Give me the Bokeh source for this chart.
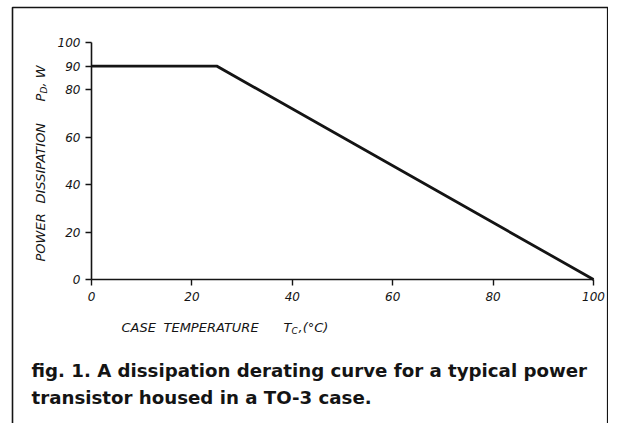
import math
from bokeh.plotting import figure
from bokeh.models import Range1d, FixedTicker, Label, BoxAnnotation
from bokeh.embed import file_html
from bokeh.resources import INLINE

# ---- data ----
case_temp_c = [0, 25, 100]
power_dissipation_w = [90, 90, 0]
x_ticks = [0, 20, 40, 60, 80, 100]
y_ticks = [0, 20, 40, 60, 80, 90, 100]

INK = "#141414"
AX_FONT = "DejaVu Sans"

W, H = 608, 423
# where the axes should sit on the canvas (pixels)
X0PX, X100PX, Y0PX, Y100PX = 91, 593, 279, 42
sx = (X100PX - X0PX) / 100.0
sy = (Y0PX - Y100PX) / 100.0

p = figure(width=W, height=H, output_backend="svg", toolbar_location=None,
           x_range=Range1d(-X0PX / sx, (W - X0PX) / sx),
           y_range=Range1d(-(H - Y0PX) / sy, Y0PX / sy),
           min_border=0)
p.background_fill_color = "white"
p.border_fill_color = "white"
p.outline_line_color = None
p.grid.visible = False

p.line(case_temp_c, power_dissipation_w, line_width=2.8, line_color=INK,
       line_join="miter")

for ax, ticks in ((p.xaxis[0], x_ticks), (p.yaxis[0], y_ticks)):
    ax.ticker = FixedTicker(ticks=ticks, minor_ticks=[])
    ax.fixed_location = 0
    ax.bounds = (0, 100)
    ax.axis_line_color = INK
    ax.axis_line_width = 1.6
    ax.major_tick_line_color = INK
    ax.major_tick_line_width = 1.4
    ax.major_tick_out = 6
    ax.major_tick_in = 0
    ax.minor_tick_out = 0
    ax.minor_tick_in = 0
    ax.major_label_text_font = AX_FONT
    ax.major_label_text_font_style = "italic"
    ax.major_label_text_font_size = "12px"
    ax.major_label_text_color = INK
p.xaxis.major_label_standoff = 6
p.yaxis.major_label_standoff = 5

lab = dict(text_font=AX_FONT, text_font_style="italic", text_color=INK,
           text_baseline="middle", text_align="left",
           x_units="canvas", y_units="canvas")

# x axis label with subscript
p.add_layout(Label(x=121, y=327, text="CASE", text_font_size="13px", **lab))
p.add_layout(Label(x=163, y=327, text="TEMPERATURE", text_font_size="13px", **lab))
p.add_layout(Label(x=283, y=327, text="T", text_font_size="13px", **lab))
p.add_layout(Label(x=291, y=330.5, text="C", text_font_size="9px", **lab))
p.add_layout(Label(x=298, y=327, text=",(°C)", text_font_size="13px", **lab))

# y axis label (rotated) with subscript
rot = math.pi / 2
p.add_layout(Label(x=40, y=261, text="POWER", angle=rot,
                   text_font_size="13px", **lab))
p.add_layout(Label(x=40, y=203, text="DISSIPATION", angle=rot,
                   text_font_size="13px", **lab))
p.add_layout(Label(x=40, y=101, text="P", angle=rot,
                   text_font_size="13px", **lab))
p.add_layout(Label(x=43.5, y=93, text="D", angle=rot,
                   text_font_size="9px", **lab))
p.add_layout(Label(x=40, y=86, text=", W", angle=rot,
                   text_font_size="13px", **lab))

# caption
cap = dict(text_font="DejaVu Sans", text_font_style="bold", text_color=INK,
           text_baseline="alphabetic", text_align="left", text_font_size="18.2px",
           x_units="canvas", y_units="canvas")
p.add_layout(Label(x=31, y=370,
                   text="fig. 1. A dissipation derating curve for a typical power", **cap))
p.add_layout(Label(x=31, y=397,
                   text="transistor housed in a TO-3 case.", **cap))

# outer frame of the figure (open at the bottom)
p.add_layout(BoxAnnotation(left=12, right=607.2, top=7, bottom=470,
                           left_units="canvas", right_units="canvas",
                           top_units="canvas", bottom_units="canvas",
                           fill_color=None, line_color=INK, line_alpha=1.0,
                           line_width=1.6))

open("out.html", "w").write(file_html(p, INLINE))
